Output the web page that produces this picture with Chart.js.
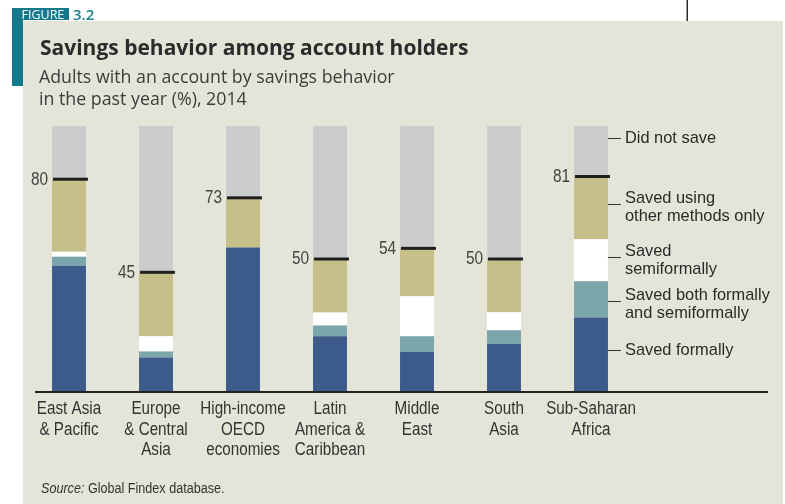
<!DOCTYPE html>
<html lang="en">
<head>
<meta charset="UTF-8">
<title>Savings behavior among account holders</title>
<script src="https://cdn.jsdelivr.net/npm/chart.js"></script>
<style>
  body { margin: 0; background: #ffffff; }
  canvas { display: block; }
</style>
</head>
<body>
<canvas id="savingsChart" width="785" height="504"></canvas>
<script>
// Adults with an account by savings behavior in the past year (%), 2014
const regions = [
  ['East Asia', '& Pacific'],
  ['Europe', '& Central', 'Asia'],
  ['High-income', 'OECD', 'economies'],
  ['Latin', 'America &', 'Caribbean'],
  ['Middle', 'East'],
  ['South', 'Asia'],
  ['Sub-Saharan', 'Africa']
];
const savedFormally = [47.5, 13, 54.3, 21, 15, 18, 28];
const savedBoth = [3.3, 2.2, 0, 4, 6, 5.2, 13.6];
const savedSemi = [1.9, 5.8, 0, 4.9, 15, 6.8, 15.8];
const savedOther = [27.3, 24, 18.7, 20.1, 18, 20, 23.6];
const didNotSave = [20, 55, 27, 50, 46, 50, 19];
const savedAny = [80, 45, 73, 50, 54, 50, 81];

const seriesNames = [
  ['Saved formally'],
  ['Saved both formally', 'and semiformally'],
  ['Saved', 'semiformally'],
  ['Saved using', 'other methods only'],
  ['Did not save']
];
const seriesColors = ['#3d5b8a', '#7aa5aa', '#ffffff', '#c6bf89', '#cbccce'];

const regular = '"Liberation Sans", Arial, sans-serif';
const humanist = '"Open Sans", "Noto Sans", sans-serif';

// condensed text: squeeze a regular face horizontally
function squeezed(ctx, text, x, y, sx) {
  ctx.save();
  ctx.translate(x, y);
  ctx.scale(sx, 1);
  ctx.fillText(text, 0, 0);
  ctx.restore();
}

// panel, figure tag, headings and source note
const framePlugin = {
  id: 'frame',
  beforeDraw(chart) {
    const ctx = chart.ctx;
    ctx.save();
    ctx.fillStyle = '#ffffff';
    ctx.fillRect(0, 0, chart.width, chart.height);
    ctx.fillStyle = '#e4e4d9';
    ctx.fillRect(23, 21, 760, 483);

    ctx.fillStyle = '#14798a';
    ctx.fillRect(12, 8, 11, 78);
    ctx.fillRect(12, 8, 57, 12);
    ctx.textBaseline = 'alphabetic';
    ctx.textAlign = 'left';
    ctx.fillStyle = '#ffffff';
    ctx.font = '12.5px ' + humanist;
    ctx.fillText('FIGURE', 21.5, 19);
    ctx.fillStyle = '#1a8091';
    ctx.font = '600 15px ' + humanist;
    ctx.fillText('3.2', 73, 19.5);

    ctx.fillStyle = '#2a2a2a';
    ctx.fillRect(686.5, 0, 1.5, 21);

    ctx.fillStyle = '#2b2b2b';
    ctx.font = 'bold 21px ' + humanist;
    ctx.fillText('Savings behavior among account holders', 40, 55);
    ctx.fillStyle = '#3c3c3c';
    ctx.font = '17.8px ' + humanist;
    ctx.fillText('Adults with an account by savings behavior', 39, 83);
    ctx.fillText('in the past year (%), 2014', 39, 105);

    ctx.fillStyle = '#333333';
    ctx.font = 'italic 14px ' + regular;
    squeezed(ctx, 'Source:', 41, 493, 0.9);
    const w = ctx.measureText('Source: ').width * 0.9;
    ctx.font = '14px ' + regular;
    squeezed(ctx, 'Global Findex database.', 41 + w, 493, 0.9);
    ctx.restore();
  }
};

// savings markers, baseline, region names and the labels beside the last bar
const markPlugin = {
  id: 'marks',
  afterDatasetsDraw(chart) {
    const ctx = chart.ctx;
    const x = chart.scales.x;
    const y = chart.scales.y;
    const bars = chart.getDatasetMeta(0).data;
    const bottom = chart.chartArea.bottom;
    ctx.save();

    bars.forEach((bar, i) => {
      const left = bar.x - bar.width / 2;
      const py = y.getPixelForValue(savedAny[i]);
      ctx.fillStyle = '#1f1f1f';
      ctx.fillRect(left + 1, py - 1.5, bar.width + 1, 3);
      ctx.fillStyle = '#444444';
      ctx.font = '17.5px ' + regular;
      ctx.textAlign = 'right';
      ctx.textBaseline = 'middle';
      squeezed(ctx, String(savedAny[i]), left - 4, py + 0.5, 0.88);
    });

    ctx.fillStyle = '#222222';
    ctx.fillRect(35, bottom - 1, 733, 2);

    ctx.fillStyle = '#333333';
    ctx.font = '17.5px ' + regular;
    ctx.textAlign = 'center';
    ctx.textBaseline = 'middle';
    regions.forEach((lines, i) => {
      const cx = x.getPixelForTick(i);
      lines.forEach((t, j) => squeezed(ctx, t, cx, bottom + 17 + j * 20.8, 0.87));
    });

    const last = bars.length - 1;
    const right = bars[last].x + bars[last].width / 2;
    let base = 0;
    const stacks = [savedFormally, savedBoth, savedSemi, savedOther, didNotSave];
    const shift = [-5, 2, -3, -4, -13];
    ctx.font = '16.4px ' + regular;
    ctx.textAlign = 'left';
    stacks.forEach((s, k) => {
      const mid = base + s[last] / 2;
      base += s[last];
      const ty = Math.round(y.getPixelForValue(mid) + shift[k]) + 0.5;
      ctx.strokeStyle = '#333333';
      ctx.lineWidth = 1;
      ctx.beginPath();
      ctx.moveTo(right, ty);
      ctx.lineTo(right + 13, ty);
      ctx.stroke();
      ctx.fillStyle = '#2a2a2a';
      const lines = seriesNames[k];
      const lh = 18.8;
      const top = lines.length > 1 ? ty + 3 - lh / 2 : ty;
      lines.forEach((t, j) => ctx.fillText(t, right + 17, top + j * lh));
    });
    ctx.restore();
  }
};

const ctx = document.getElementById('savingsChart').getContext('2d');
const stacks = [savedFormally, savedBoth, savedSemi, savedOther, didNotSave];
new Chart(ctx, {
  type: 'bar',
  data: {
    labels: regions,
    datasets: stacks.map((values, k) => ({
      label: seriesNames[k].join(' '),
      data: values,
      backgroundColor: seriesColors[k],
      borderWidth: 0,
      barPercentage: 0.39,
      categoryPercentage: 1
    }))
  },
  options: {
    responsive: false,
    animation: false,
    devicePixelRatio: 1,
    layout: { padding: { left: 25.5, right: 150.5, top: 126, bottom: 0 } },
    plugins: {
      legend: { display: false },
      tooltip: { enabled: false }
    },
    scales: {
      x: {
        stacked: true,
        grid: { display: false, drawTicks: false },
        border: { display: false },
        ticks: { display: false },
        afterFit(scale) { scale.height = 112; }
      },
      y: {
        stacked: true,
        display: false,
        min: 0,
        max: 100
      }
    }
  },
  plugins: [framePlugin, markPlugin]
});
</script>
</body>
</html>
